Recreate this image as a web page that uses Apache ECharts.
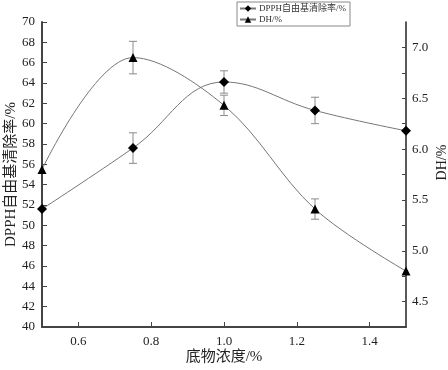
<!DOCTYPE html>
<html>
<head>
<meta charset="utf-8">
<script src="https://cdn.jsdelivr.net/npm/echarts@6/dist/echarts.min.js"></script>
<style>
html, body { margin: 0; padding: 0; background: #fff; }
#chart { width: 448px; height: 370px; }
</style>
</head>
<body>
<div id="chart"></div>
<script>
// substrate concentration (%)
var conc = [0.5, 0.75, 1.0, 1.25, 1.5];
// DPPH radical scavenging rate (%) and error
var dpph = [51.6, 57.6, 64.1, 61.3, 59.3];
var dpphErr = [0, 1.5, 1.1, 1.3, 0];
// degree of hydrolysis (%) and error
var dh = [5.8, 6.9, 6.43, 5.41, 4.8];
var dhErr = [0, 0.16, 0.1, 0.1, 0];
// tick labels
var xTicks = [0.6, 0.8, 1.0, 1.2, 1.4];
var dhTicks = [4.5, 5.0, 5.5, 6.0, 6.5, 7.0];
var dhMinor = [4.5, 4.75, 5.0, 5.25, 5.5, 5.75, 6.0, 6.25, 6.5, 6.75, 7.0];

var font = 'Liberation Serif, Noto Sans CJK SC, serif';

function pairs(xs, ys) {
    return xs.map(function (x, i) { return [x, ys[i]]; });
}
function errData(xs, ys, es) {
    var out = [];
    xs.forEach(function (x, i) {
        if (es[i] > 0) out.push([x, ys[i] - es[i], ys[i] + es[i]]);
    });
    return out;
}
function renderErr(params, api) {
    var x = api.value(0);
    var lo = api.coord([x, api.value(1)]);
    var hi = api.coord([x, api.value(2)]);
    var w = 4;
    var st = { stroke: '#8a8a8a', lineWidth: 1 };
    return {
        type: 'group',
        children: [
            { type: 'line', shape: { x1: lo[0], y1: lo[1], x2: hi[0], y2: hi[1] }, style: st },
            { type: 'line', shape: { x1: lo[0] - w, y1: lo[1], x2: lo[0] + w, y2: lo[1] }, style: st },
            { type: 'line', shape: { x1: hi[0] - w, y1: hi[1], x2: hi[0] + w, y2: hi[1] }, style: st }
        ]
    };
}

var chart = echarts.init(document.getElementById('chart'));
var option = {
    animation: false,
    backgroundColor: '#fff',
    grid: {
        left: 42,
        right: 42,
        top: 22,
        bottom: 43,
        containLabel: false,
        outerBoundsMode: 'none'
    },
    legend: {
        data: ['DPPH自由基清除率/%', 'DH/%'],
        orient: 'vertical',
        left: 237,
        top: 2,
        itemWidth: 16,
        itemHeight: 8,
        itemGap: 2,
        padding: [2, 4, 2, 2],
        borderColor: '#888',
        borderWidth: 1,
        borderRadius: 0,
        textStyle: {
            fontSize: 9,
            fontFamily: font,
            color: '#333',
            padding: [0, 0, 0, -2]
        }
    },
    xAxis: {
        type: 'value',
        min: 0.5,
        max: 1.5,
        name: '底物浓度/%',
        nameLocation: 'middle',
        nameGap: 23,
        nameMoveOverlap: false,
        nameTextStyle: { fontSize: 15, fontFamily: font, color: '#222' },
        axisLine: { lineStyle: { color: '#444', width: 2 } },
        axisTick: {
            inside: true,
            length: 5,
            customValues: xTicks,
            lineStyle: { color: '#444' }
        },
        axisLabel: {
            customValues: xTicks,
            margin: 8,
            fontSize: 13,
            fontFamily: font,
            color: '#222',
            formatter: function (v) { return v.toFixed(1); }
        },
        splitLine: { show: false }
    },
    yAxis: [
        {
            type: 'value',
            min: 40,
            max: 70,
            interval: 2,
            name: 'DPPH自由基清除率/%',
            nameLocation: 'middle',
            nameGap: 23,
            nameMoveOverlap: false,
            nameTextStyle: { fontSize: 15, fontFamily: font, color: '#222' },
            axisLine: { show: true, lineStyle: { color: '#444', width: 2 } },
            axisTick: { show: true, inside: true, length: 5, lineStyle: { color: '#444' } },
            axisLabel: { margin: 7, fontSize: 13, fontFamily: font, color: '#222' },
            splitLine: { show: false }
        },
        {
            type: 'value',
            position: 'right',
            min: 4.25,
            max: 7.25,
            name: 'DH/%',
            nameLocation: 'middle',
            nameRotate: 90,
            nameGap: 29,
            nameMoveOverlap: false,
            nameTextStyle: { fontSize: 14, fontFamily: font, color: '#222', padding: [0, 0, 0, 24] },
            axisLine: { show: true, lineStyle: { color: '#222', width: 1.5 } },
            axisTick: { show: true, inside: true, length: 4, customValues: dhMinor, lineStyle: { color: '#444' } },
            axisLabel: {
                customValues: dhTicks,
                margin: 6,
                fontSize: 13,
                fontFamily: font,
                color: '#222',
                formatter: function (v) { return v.toFixed(1); }
            },
            splitLine: { show: false }
        }
    ],
    series: [
        {
            type: 'custom',
            name: 'dpphErr',
            renderItem: renderErr,
            data: errData(conc, dpph, dpphErr),
            yAxisIndex: 0,
            z: 1,
            silent: true
        },
        {
            type: 'custom',
            name: 'dhErr',
            renderItem: renderErr,
            data: errData(conc, dh, dhErr),
            yAxisIndex: 1,
            z: 1,
            silent: true
        },
        {
            name: 'DPPH自由基清除率/%',
            type: 'line',
            data: pairs(conc, dpph),
            yAxisIndex: 0,
            smooth: 0.4,
            symbol: 'diamond',
            symbolSize: 10,
            z: 3,
            lineStyle: { color: '#777', width: 1 },
            itemStyle: { color: '#000' }
        },
        {
            name: 'DH/%',
            type: 'line',
            data: pairs(conc, dh),
            yAxisIndex: 1,
            smooth: 0.35,
            symbol: 'triangle',
            symbolSize: 9,
            z: 3,
            lineStyle: { color: '#777', width: 1 },
            itemStyle: { color: '#000' }
        }
    ]
};
chart.setOption(option);
window.addEventListener('resize', function () {
    chart.resize();
});
</script>
</body>
</html>
